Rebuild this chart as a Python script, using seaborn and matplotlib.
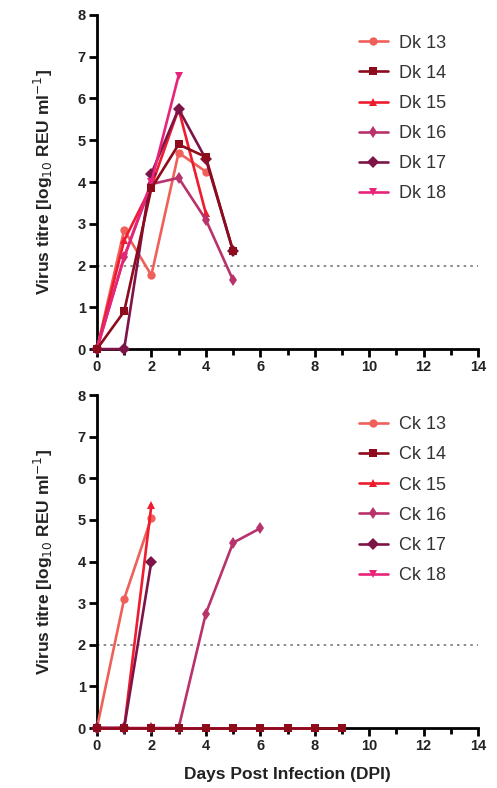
import matplotlib
matplotlib.use("Agg")
import matplotlib.pyplot as plt
import seaborn as sns
import pandas as pd

# Duck (Dk) virus titres by day post infection
dk_ids = ["Dk 13", "Dk 14", "Dk 15", "Dk 16", "Dk 17", "Dk 18"]
dk_days = [
    [0, 1, 2, 3, 4],
    [0, 1, 2, 3, 4, 5],
    [0, 1, 2, 3, 4],
    [0, 1, 2, 3, 4, 5],
    [0, 1, 2, 3, 4, 5],
    [0, 1, 2, 3],
]
dk_titre = [
    [0, 2.85, 1.77, 4.7, 4.25],
    [0, 0.9, 3.85, 4.9, 4.6, 2.35],
    [0, 2.6, 3.9, 5.75, 3.25],
    [0, 2.2, 3.95, 4.1, 3.1, 1.65],
    [0, 0, 4.2, 5.75, 4.55, 2.35],
    [0, 2.2, 4.0, 6.55],
]

# Chicken (Ck) virus titres by day post infection
ck_ids = ["Ck 13", "Ck 14", "Ck 15", "Ck 16", "Ck 17", "Ck 18"]
ck_days = [
    [0, 1, 2],
    [0, 1, 2, 3, 4, 5, 6, 7, 8, 9],
    [0, 1, 2],
    [0, 1, 2, 3, 4, 5, 6],
    [0, 1, 2],
    [0, 1, 2, 3, 4, 5, 6, 7, 8],
]
ck_titre = [
    [0, 3.1, 5.05],
    [0, 0, 0, 0, 0, 0, 0, 0, 0, 0],
    [0, 0, 5.35],
    [0, 0, 0, 0, 2.75, 4.45, 4.8],
    [0, 0, 4.0],
    [0, 0, 0, 0, 0, 0, 0, 0, 0],
]

detection_limit = 2.0

colors = ["#f0605a", "#8e0b1c", "#ee1c2e", "#b8336a", "#7d1448", "#e8247a"]
marks = ["o", "s", "^", "d", "D", "v"]

sns.set_theme(style="white")
plt.rcParams["font.family"] = ["Liberation Sans", "DejaVu Sans"]


def long_table(ids, days, titres):
    rows = []
    for name, d, t in zip(ids, days, titres):
        for di, ti in zip(d, t):
            rows.append({"animal": name, "day": di, "titre": ti})
    return pd.DataFrame(rows)


fig = plt.figure(figsize=(4.97, 7.88), dpi=100)
ax_top = fig.add_axes([0.195, 0.557, 0.767, 0.424])
ax_bot = fig.add_axes([0.195, 0.0761, 0.767, 0.4226])

ylab = r"Virus titre [log$_{10}$ REU ml$^{-1}$]"

for ax, ids, days, titres, legend_y in [
    (ax_top, dk_ids, dk_days, dk_titre, 0.99),
    (ax_bot, ck_ids, ck_days, ck_titre, 0.985),
]:
    df = long_table(ids, days, titres)
    sns.lineplot(
        data=df, x="day", y="titre", hue="animal", style="animal",
        hue_order=ids, style_order=ids,
        palette=dict(zip(ids, colors)), markers=dict(zip(ids, marks)),
        dashes=False, markersize=6, markeredgewidth=0, linewidth=1.9,
        ax=ax, legend=True, clip_on=False, zorder=3,
    )
    # keep the dark-red series on top where series overlap at the baseline
    ax.lines[1].set_zorder(4)
    ax.axhline(detection_limit, color="#777777", linestyle=(0, (1.5, 2.5)),
               linewidth=1.2, zorder=1)
    ax.set_xlim(0, 14)
    ax.set_ylim(0, 8)
    ax.set_xticks(range(0, 15, 2))
    ax.set_xticks(range(0, 15, 1), minor=True)
    ax.set_yticks(range(0, 9))
    for side in ["top", "right"]:
        ax.spines[side].set_visible(False)
    for side in ["left", "bottom"]:
        ax.spines[side].set_linewidth(2.0)
        ax.spines[side].set_color("black")
    ax.tick_params(axis="both", which="major", direction="out", length=6,
                   width=2.0, color="black", labelsize=10.5, pad=2)
    ax.tick_params(axis="x", which="minor", direction="out", length=4,
                   width=2.0, color="black", bottom=True)
    ax.tick_params(left=True, bottom=True)
    for lab in ax.get_xticklabels() + ax.get_yticklabels():
        lab.set_fontweight("bold")
        lab.set_color("#222222")
    ax.set_ylabel(ylab, fontsize=12.5, fontweight="bold", color="#222222",
                  labelpad=16)
    ax.set_xlabel("")
    leg = ax.legend(loc="upper left", bbox_to_anchor=(0.645, legend_y),
                    frameon=False, fontsize=13, labelspacing=0.73,
                    handlelength=1.6, handletextpad=0.6)
    for t in leg.get_texts():
        t.set_color("#333333")

ax_bot.set_xlabel("Days Post Infection (DPI)", fontsize=12.5, fontweight="bold",
                  color="#222222", labelpad=10)

fig.savefig("out.png", dpi=100)
